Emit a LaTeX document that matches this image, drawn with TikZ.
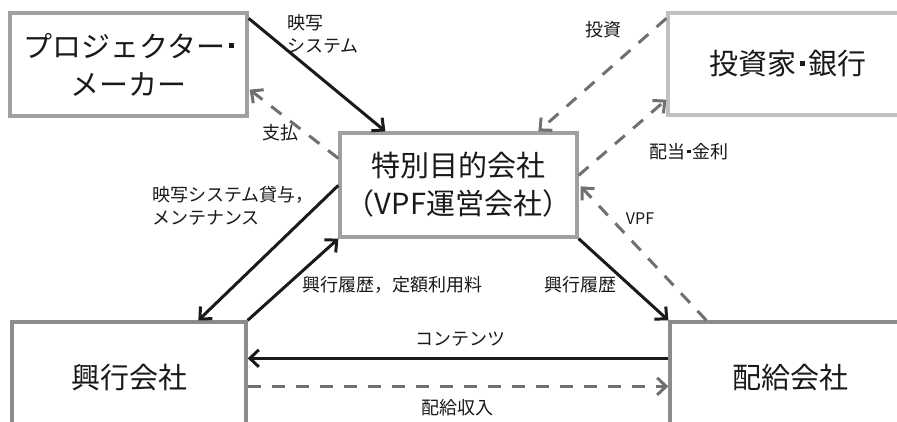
\documentclass[tikz,border=0pt]{standalone}
\usepackage{fontspec}
\setmainfont{Noto Sans CJK JP}
\usetikzlibrary{arrows.meta,calc}
\definecolor{boxA}{HTML}{A0A0A0}
\definecolor{boxB}{HTML}{C0C0C0}
\definecolor{boxC}{HTML}{8C8C8C}
\definecolor{dashc}{HTML}{707070}
\definecolor{solidc}{HTML}{1A1A1A}
\newcommand{\sqdot}{\hspace{0.12em}\rule[0.3em]{0.18em}{0.18em}\hspace{0.12em}}
\tikzset{
  x=1pt,y=-1pt,
  box/.style={draw,line width=3.3pt,minimum width=#1,inner sep=0pt,align=center,
    font=\fontsize{29}{38}\selectfont,text=black!90},
  lbl/.style={inner sep=0pt,align=left,font=\fontsize{18}{23}\selectfont,text=black!90},
  solidarr/.style={draw=solidc,line width=3pt,-{Straight Barb[length=9pt,width=17pt,line width=3pt]}},
  dasharr/.style={draw=dashc,line width=3pt,dash pattern=on 13pt off 11pt,-{Straight Barb[length=9pt,width=17pt,line width=3pt]}},
}
\begin{document}
\begin{tikzpicture}
\useasboundingbox (0,0) rectangle (897,422);
\clip (0,0) rectangle (897,422);
\fill[white] (0,0) rectangle (897,422);
% boxes
\node[box=237pt,minimum height=103pt,draw=boxA] (pm) at (128.5,64.5) {プロジェクター\sqdot\\メーカー};
\node[box=240pt,minimum height=102pt,draw=boxB] (inv) at (788,64) {投資家\sqdot 銀行};
\node[box=237pt,minimum height=104pt,draw=boxA] (spc) at (458.5,185) {特別目的会社\\（VPF運営会社）};
\node[box=234pt,minimum height=112pt,draw=boxC] (exh) at (129,378) {興行会社};
\node[box=240pt,minimum height=112pt,draw=boxC] (dist) at (790,378) {配給会社};
% connectors
\coordinate (a1s) at ($(pm.north east)+(0,7)$);
\coordinate (a1e) at ($(spc.north west)+(47,0)$);
\draw[solidarr] (a1s) -- (a1e);
\coordinate (a2s) at ($(spc.north west)+(0,27)$);
\coordinate (a2e) at ($(pm.south east)+(1,-28)$);
\draw[dasharr] (a2s) -- (a2e);
\coordinate (a3s) at ($(inv.north west)+(0,7)$);
\coordinate (a3e) at ($(spc.north west)+(200,0)$);
\draw[dasharr] (a3s) -- (a3e);
\coordinate (a4s) at ($(spc.north east)+(0,44)$);
\coordinate (a4e) at ($(inv.south west)+(0,-17)$);
\draw[dasharr] (a4s) -- (a4e);
\coordinate (a5s) at ($(dist.north west)+(38,0)$);
\coordinate (a5e) at ($(spc.north east)+(2,55)$);
\draw[dasharr] (a5s) -- (a5e);
\draw[solidarr] (spc.south east) -- (dist.north west);
\coordinate (a7s) at ($(spc.north west)+(0,54)$);
\coordinate (a7e) at ($(exh.north west)+(188,0)$);
\draw[solidarr] (a7s) -- (a7e);
\draw[solidarr] (exh.north east) -- (spc.south west);
\coordinate (a9s) at ($(dist.north west)+(0,38)$);
\coordinate (a9e) at ($(exh.north east)+(0,38)$);
\draw[solidarr] (a9s) -- (a9e);
\coordinate (a10s) at ($(exh.north east)+(0,66)$);
\coordinate (a10e) at ($(dist.north west)+(0,66)$);
\draw[dasharr] (a10s) -- (a10e);
% labels
\node[lbl,anchor=west] (l1) at (287,34) {映写\\システム};
\node[lbl] (l2) at (280,133) {支払};
\node[lbl] (l3) at (603,30) {投資};
\node[lbl] (l4) at (689,152) {配当\sqdot 金利};
\node[lbl,font=\fontsize{16}{20}\selectfont] (l5) at (640,219) {VPF};
\node[lbl,anchor=west] (l7) at (152,206) {映写システム貸与，\\メンテナンス};
\node[lbl] (l8) at (392,285) {興行履歴，定額利用料};
\node[lbl] (l6) at (580,285) {興行履歴};
\node[lbl] (l9) at (460,339) {コンテンツ};
\node[lbl] (l10) at (457,408) {配給収入};
\end{tikzpicture}
\end{document}
